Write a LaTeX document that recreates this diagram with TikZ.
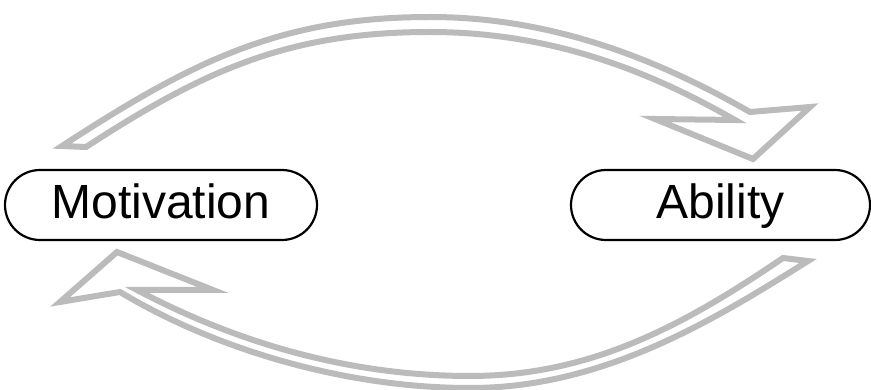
\documentclass[tikz,border=0pt]{standalone}
\usepackage{fontspec}
\setmainfont{Liberation Sans}
\definecolor{arrowgray}{HTML}{BBBBBB}
\begin{document}
\begin{tikzpicture}[x=1pt,y=-1pt]
    % Styles
    \tikzset{pill node/.style={draw,line width=2.2pt,rounded corners=35pt,minimum height=70pt,inner sep=0pt,
                               text height=36pt,text depth=8pt,font=\fontsize{48}{56}\selectfont},
             block arrow/.style={draw=arrowgray,line width=6pt,line join=miter,miter limit=12}}
    \useasboundingbox (0,0) rectangle (871,390);

    % --- Nodes ---
    \node[pill node,minimum width=312pt] (mot) at (161,205) {Motivation};
    \node[pill node,minimum width=299pt] (abl) at (720.5,205) {Ability};

    % --- Ends of the upper arrow ---
    \coordinate (topTailA) at (62,146);
    \coordinate (topTailB) at (86,147);
    \coordinate (topTip) at (753,159);

    % --- Ends of the lower arrow ---
    \coordinate (botTailA) at (783,258);
    \coordinate (botTailB) at (808,261);
    \coordinate (botTip) at (117,252);

    % --- Upper arrow: Motivation to Ability ---
    \draw[block arrow] (topTailA) .. controls (192,61.5) and (280,17) .. (430,17)
        .. controls (560,17) and (668,65.3) .. (750,112)
        -- (810,107) -- (topTip) -- (655,119) -- (735,120)
        .. controls (660,77.3) and (560,32) .. (430,32)
        .. controls (290,32) and (206,69) .. (topTailB)
        -- cycle;

    % --- Lower arrow: Ability back to Motivation ---
    \draw[block arrow] (botTailA) .. controls (683,326) and (590,376) .. (470,376)
        .. controls (350,376) and (237,343) .. (137,290)
        -- (213,290) -- (botTip) -- (60,302) -- (120,292)
        .. controls (220,352) and (350,388) .. (470,388)
        .. controls (600,388) and (708,324) .. (botTailB)
        -- cycle;

\end{tikzpicture}
\end{document}
